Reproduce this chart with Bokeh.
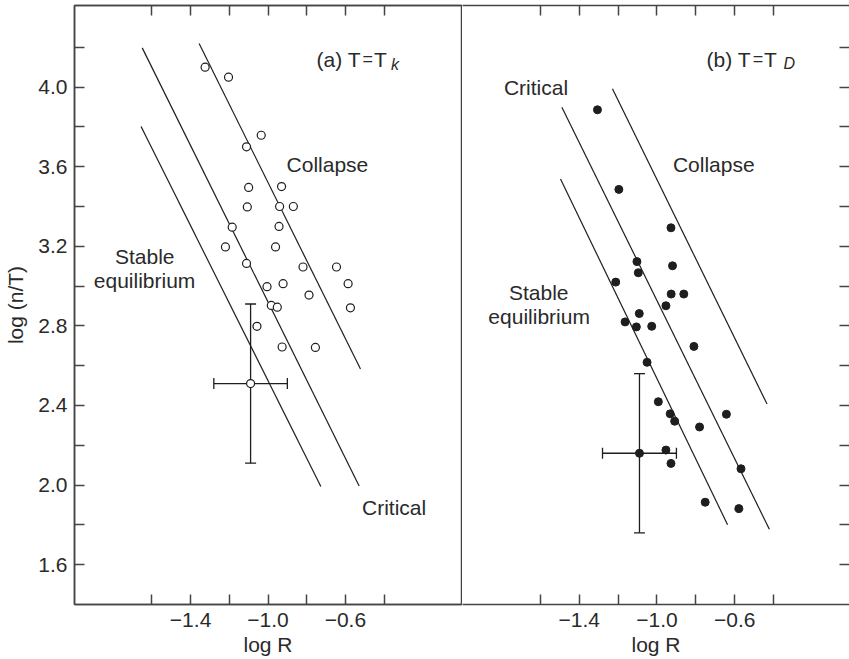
from bokeh.plotting import figure
from bokeh.models import (Range1d, LinearAxis, FixedTicker, Label, Whisker,
                          ColumnDataSource, TeeHead)
from bokeh.layouts import row
from bokeh.embed import file_html
from bokeh.resources import INLINE

# ---------------- data ----------------
# panel (a) T = T_k : open circles
a_logR = [-1.325, -1.204, -1.035, -1.111, -1.100, -0.930, -1.107, -0.940, -0.869,
          -1.185, -0.943, -1.220, -0.961, -1.111, -0.819, -0.646, -1.005, -0.922,
          -0.586, -0.788, -0.983, -0.952, -0.574, -1.057, -0.927, -0.755]
a_lognT = [4.10, 4.05, 3.758, 3.70, 3.496, 3.50, 3.398, 3.40, 3.40,
           3.296, 3.30, 3.197, 3.197, 3.114, 3.096, 3.096, 2.997, 3.012,
           3.012, 2.955, 2.903, 2.894, 2.891, 2.798, 2.694, 2.692]
# panel (b) T = T_D : filled circles
b_logR = [-1.306, -1.196, -0.928, -1.103, -1.096, -0.920, -1.212, -0.927, -0.862,
          -0.954, -1.091, -1.164, -1.106, -1.027, -0.810, -1.051, -0.993, -0.932,
          -0.909, -0.643, -0.781, -0.954, -0.928, -0.568, -0.752, -0.579]
b_lognT = [3.886, 3.486, 3.293, 3.123, 3.067, 3.102, 3.020, 2.960, 2.960,
           2.901, 2.862, 2.820, 2.795, 2.798, 2.697, 2.617, 2.419, 2.358,
           2.321, 2.356, 2.292, 2.176, 2.109, 2.082, 1.914, 1.882]
# representative error bars
a_err_x, a_err_y = [-1.09], [2.51]
b_err_x, b_err_y = [-1.09], [2.16]
err_dx, err_dy = 0.19, 0.40
# boundary lines (collapse, critical, stable) as segment end points
a_line_x0 = [-1.356, -1.650, -1.656]
a_line_y0 = [4.219, 4.197, 3.802]
a_line_x1 = [-0.522, -0.529, -0.727]
a_line_y1 = [2.583, 1.995, 1.993]
b_line_x0 = [-1.229, -1.489, -1.496]
b_line_y0 = [3.992, 3.899, 3.538]
b_line_x1 = [-0.434, -0.422, -0.637]
b_line_y1 = [2.407, 1.778, 1.801]
# ticks
x_major = [-1.4, -1.0, -0.6]
x_minor = [-1.6, -1.2, -0.8, -0.4]
x_labels = {-1.4: "\u22121.4", -1.0: "\u22121.0", -0.6: "\u22120.6"}
y_major = [1.6, 2.0, 2.4, 2.8, 3.2, 3.6, 4.0]
y_minor = [1.8, 2.2, 2.6, 3.0, 3.4, 3.8, 4.2]
y_labels = {v: f"{v:.1f}" for v in y_major}
x_title = "log R"
y_title = "log (n/T)"

FONT = "Liberation Sans"
FRAME = "#444444"
INK = "#1e1e1e"
TXT = "#2a2a2a"


def style_axis(ax, major, minor, labels=None):
    ax.ticker = FixedTicker(ticks=major, minor_ticks=minor)
    ax.major_tick_in = 10
    ax.major_tick_out = 0
    ax.minor_tick_in = 10
    ax.minor_tick_out = 0
    ax.major_tick_line_color = FRAME
    ax.minor_tick_line_color = FRAME
    ax.major_tick_line_width = 1.5
    ax.minor_tick_line_width = 1.5
    ax.axis_line_color = FRAME
    ax.axis_line_width = 1.5
    if labels is None:
        ax.major_label_text_font_size = "0px"
        ax.major_label_standoff = 0
        ax.major_label_text_alpha = 0
    else:
        ax.major_label_overrides = labels
        ax.major_label_text_font = FONT
        ax.major_label_text_font_size = "21px"
        ax.major_label_text_color = TXT
    ax.axis_label_text_font = FONT
    ax.axis_label_text_font_size = "21px"
    ax.axis_label_text_font_style = "normal"
    ax.axis_label_text_color = TXT


def make_fig(xr, width, left_border, right_border, y_loc):
    p = figure(x_range=xr, y_range=Range1d(1.4, 4.41), width=width, height=659,
               min_border_left=left_border, min_border_right=right_border,
               min_border_top=5, min_border_bottom=55,
               output_backend="svg", toolbar_location=None,
               y_axis_location=y_loc)
    p.xgrid.visible = False
    p.ygrid.visible = False
    p.background_fill_color = "white"
    p.border_fill_color = "white"
    return p


def txt(p, x, y, s, size="21px", style="normal", align="left"):
    p.add_layout(Label(x=x, y=y, text=s, text_font=FONT, text_font_size=size,
                       text_font_style=style, text_color=TXT, text_align=align,
                       text_baseline="alphabetic"))


def add_errbar(p, xs, ys):
    src = ColumnDataSource(dict(x=xs, y=ys,
                                xlo=[v - err_dx for v in xs], xhi=[v + err_dx for v in xs],
                                ylo=[v - err_dy for v in ys], yhi=[v + err_dy for v in ys]))
    for base, lo, hi, dim in (("x", "ylo", "yhi", "height"), ("y", "xlo", "xhi", "width")):
        p.add_layout(Whisker(source=src, base=base, lower=lo, upper=hi, dimension=dim,
                             line_color=INK, line_width=1.3,
                             upper_head=TeeHead(size=11, line_color=INK, line_width=1.3),
                             lower_head=TeeHead(size=11, line_color=INK, line_width=1.3)))
    return src


# ---------------- panel (a) ----------------
p1 = make_fig(Range1d(-2.0, 0.0), 462, 74, 1, "left")
p1.outline_line_color = FRAME
p1.outline_line_width = 1.5
style_axis(p1.xaxis[0], x_major, x_minor, x_labels)
p1.xaxis[0].major_label_standoff = 8
p1.xaxis[0].axis_label = x_title
p1.xaxis[0].axis_label_standoff = 3
style_axis(p1.yaxis[0], y_major, y_minor, y_labels)
p1.yaxis[0].major_label_standoff = 7
p1.yaxis[0].axis_label = y_title
p1.yaxis[0].axis_label_standoff = 8
top1 = LinearAxis()
style_axis(top1, x_major, x_minor, None)
p1.add_layout(top1, "above")

p1.segment(a_line_x0, a_line_y0, a_line_x1, a_line_y1, line_color=INK, line_width=1.2)
src_a = add_errbar(p1, a_err_x, a_err_y)
p1.scatter(a_logR, a_lognT, size=8, marker="circle", fill_color="white",
           line_color=INK, line_width=1.2)
p1.scatter("x", "y", source=src_a, size=8, marker="circle", fill_color="white",
           line_color=INK, line_width=1.2)

txt(p1, -0.749, 4.141, "(a) T")
txt(p1, -0.511, 4.141, "=", size="18px")
txt(p1, -0.452, 4.141, "T")
txt(p1, -0.364, 4.116, "k", size="16px", style="italic")
txt(p1, -0.904, 3.611, "Collapse")
txt(p1, -1.637, 3.150, "Stable", align="center")
txt(p1, -1.638, 3.028, "equilibrium", align="center")
txt(p1, -0.514, 1.886, "Critical")

# ---------------- panel (b) ----------------
p2 = make_fig(Range1d(-2.0, -0.01), 387, 0, 0, "right")
p2.outline_line_color = None
style_axis(p2.xaxis[0], x_major, x_minor, x_labels)
p2.xaxis[0].major_label_standoff = 8
p2.xaxis[0].axis_label = x_title
p2.xaxis[0].axis_label_standoff = 3
style_axis(p2.yaxis[0], y_major, y_minor, None)
p2.yaxis[0].axis_line_color = None
top2 = LinearAxis()
style_axis(top2, x_major, x_minor, None)
p2.add_layout(top2, "above")

p2.segment(b_line_x0, b_line_y0, b_line_x1, b_line_y1, line_color=INK, line_width=1.2)
src_b = add_errbar(p2, b_err_x, b_err_y)
p2.scatter(b_logR, b_lognT, size=8, marker="circle", fill_color=INK, line_color=INK)
p2.scatter("x", "y", source=src_b, size=8, marker="circle", fill_color=INK, line_color=INK)

txt(p2, -0.745, 4.141, "(b) T")
txt(p2, -0.508, 4.141, "=", size="18px")
txt(p2, -0.450, 4.141, "T")
txt(p2, -0.349, 4.117, "D", size="16px", style="italic")
txt(p2, -1.787, 3.997, "Critical")
txt(p2, -0.918, 3.611, "Collapse")
txt(p2, -1.608, 2.966, "Stable", align="center")
txt(p2, -1.606, 2.849, "equilibrium", align="center")

layout = row(p1, p2)
open("out.html", "w").write(file_html(layout, INLINE))
